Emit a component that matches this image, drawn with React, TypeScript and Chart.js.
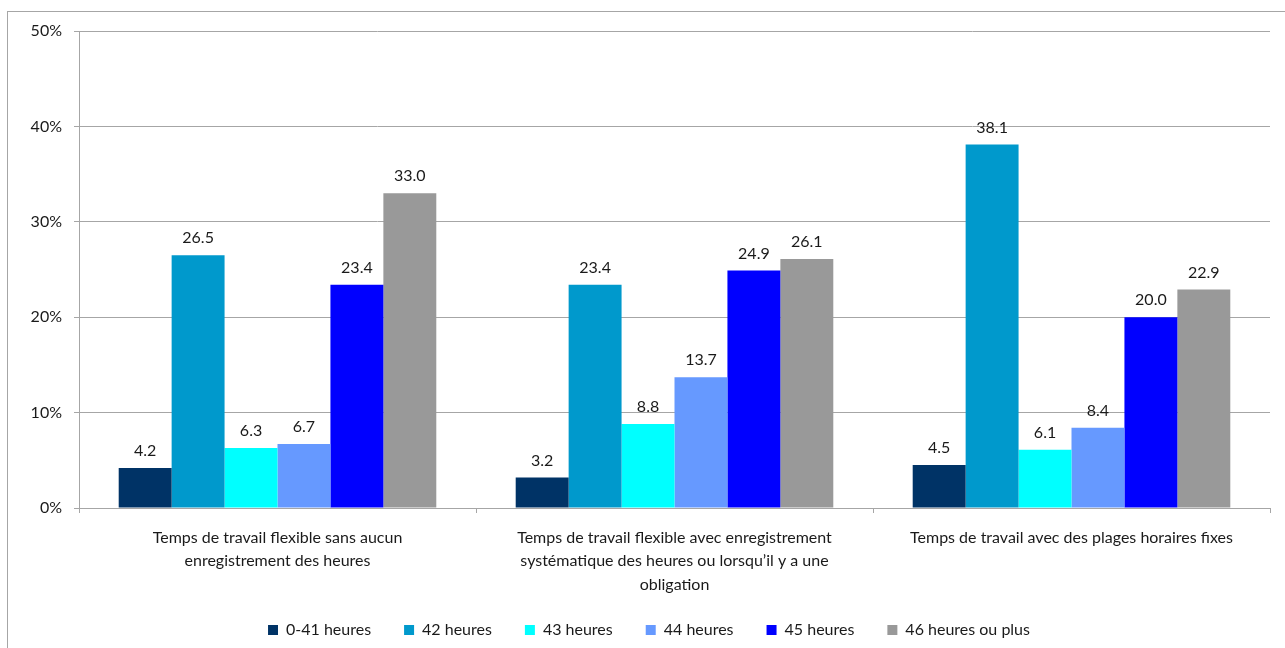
import React, { useEffect, useRef } from "react";
import { Chart, registerables } from "chart.js";

Chart.register(...registerables);

const categories: (string | string[])[] = [
  ["Temps de travail flexible sans aucun", "enregistrement des heures"],
  ["Temps de travail flexible avec enregistrement", "systématique des heures ou lorsqu’il y a une", "obligation"],
  "Temps de travail avec des plages horaires fixes",
];

const seriesNames = ["0-41 heures", "42 heures", "43 heures", "44 heures", "45 heures", "46 heures ou plus"];
const seriesColors = ["#003366", "#0099CC", "#00FFFF", "#6699FF", "#0000FF", "#999999"];

const h0_41 = [4.2, 3.2, 4.5];
const h42 = [26.5, 23.4, 38.1];
const h43 = [6.3, 8.8, 6.1];
const h44 = [6.7, 13.7, 8.4];
const h45 = [23.4, 24.9, 20.0];
const h46plus = [33.0, 26.1, 22.9];

const seriesValues = [h0_41, h42, h43, h44, h45, h46plus];

const yTicks = [0, 10, 20, 30, 40, 50];

const FONT = "Lato, 'Open Sans', sans-serif";

const frame = {
  id: "frame",
  beforeDraw(chart: any) {
    const ctx = chart.ctx;
    ctx.save();
    ctx.fillStyle = "#ffffff";
    ctx.fillRect(0, 0, chart.width, chart.height);
    ctx.strokeStyle = "#a6a6a6";
    ctx.lineWidth = 1;
    ctx.strokeRect(7.5, 11.5, chart.width + 20, chart.height + 20);
    ctx.restore();
  },
};

// let the multi-line category labels overflow their box without being clipped
const unclipX = {
  id: "unclipX",
  afterLayout(chart: any) {
    const x = chart.scales.x;
    if (x) x.bottom = x.top + 110;
  },
};

const valueLabels = {
  id: "valueLabels",
  afterDatasetsDraw(chart: any) {
    const ctx = chart.ctx;
    ctx.save();
    ctx.font = `16px ${FONT}`;
    ctx.fillStyle = "#1a1a1a";
    ctx.textAlign = "center";
    ctx.textBaseline = "bottom";
    chart.data.datasets.forEach((ds: any, i: number) => {
      const meta = chart.getDatasetMeta(i);
      meta.data.forEach((bar: any, j: number) => {
        const v = ds.data[j];
        ctx.fillText(v.toFixed(1), bar.x, bar.y - 9);
      });
    });
    ctx.restore();
  },
};

export default function App() {
  const ref = useRef<HTMLCanvasElement>(null);
  useEffect(() => {
    if (!ref.current) return;
    const chart = new Chart(ref.current, {
      type: "bar",
      data: {
        labels: categories,
        datasets: seriesNames.map((name, i) => ({
          label: name,
          data: seriesValues[i],
          backgroundColor: seriesColors[i],
          borderWidth: 0,
          categoryPercentage: 0.8,
          barPercentage: 1.0,
        })),
      },
      options: {
        animation: false,
        responsive: false,
        maintainAspectRatio: false,
        layout: { padding: { left: 0, top: 31, right: 0, bottom: 0 } },
        plugins: {
          legend: {
            position: "bottom",
            labels: {
              boxWidth: 10,
              boxHeight: 10,
              padding: 33,
              color: "#1a1a1a",
              font: { family: FONT, size: 16 },
            },
          },
          tooltip: { enabled: false },
        },
        scales: {
          x: {
            offset: true,
            grid: {
              display: true,
              drawOnChartArea: false,
              offset: true,
              tickLength: 5,
              color: "#a6a6a6",
            },
            border: { display: true, color: "#a6a6a6" },
            ticks: {
              color: "#1a1a1a",
              padding: 13,
              maxRotation: 0,
              autoSkip: false,
              font: { family: FONT, size: 16, lineHeight: 1.47 },
            },
            afterFit(scale: any) {
              scale.height = 81;
            },
          },
          y: {
            min: 0,
            max: 50,
            afterBuildTicks(scale: any) {
              scale.ticks = yTicks.map((v) => ({ value: v }));
            },
            grid: { color: "#a6a6a6", tickLength: 5 },
            border: { display: true, color: "#a6a6a6" },
            ticks: {
              color: "#1a1a1a",
              padding: 12,
              font: { family: FONT, size: 16 },
              callback: (v: any) => `${v}%`,
            },
            afterFit(scale: any) {
              scale.width = 79;
            },
          },
          yRight: {
            position: "right",
            min: 0,
            max: 50,
            grid: { display: false, drawTicks: false },
            border: { display: false },
            ticks: { display: false },
            afterFit(scale: any) {
              scale.width = 28;
            },
          },
        },
      },
      plugins: [frame, unclipX, valueLabels],
    });
    return () => chart.destroy();
  }, []);
  return (
    <div style={{ position: "absolute", left: 0, top: 0, width: 1285, height: 648, overflow: "hidden" }}>
      <canvas ref={ref} width={1298} height={648} style={{ display: "block" }} />
    </div>
  );
}
